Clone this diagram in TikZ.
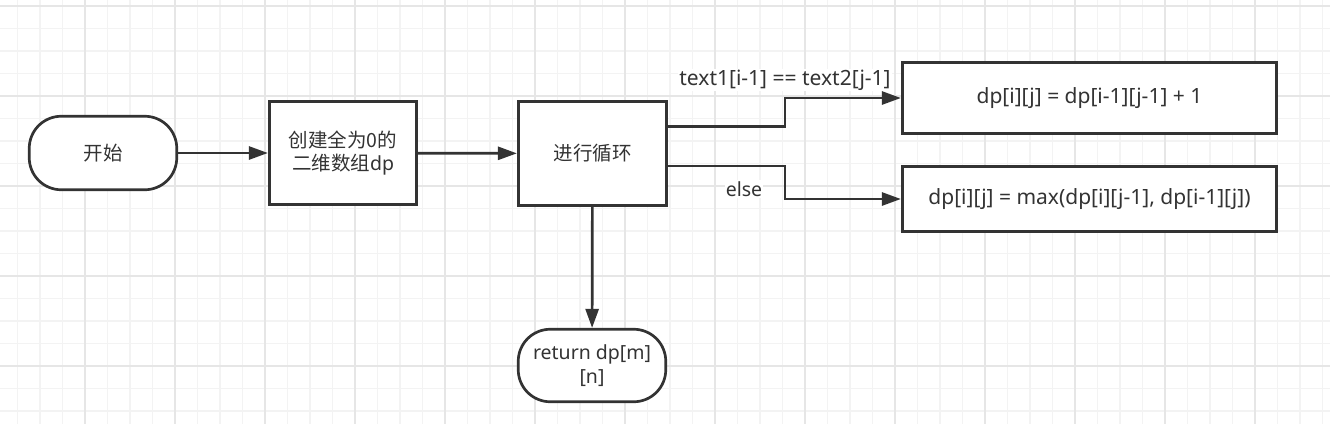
\documentclass[tikz,border=0pt]{standalone}
\usepackage{fontspec}
\setmainfont{Noto Sans}
\newfontfamily\cjk{Noto Sans CJK SC}
\usetikzlibrary{arrows.meta}
\definecolor{ink}{HTML}{333333}
\definecolor{gminor}{HTML}{F3F3F3}
\definecolor{gmajor}{HTML}{E6E6E6}
\tikzset{
  base/.style={draw=ink, line width=2.7pt, fill=white, text=ink, align=center,
    font=\fontsize{19.5}{23.5}\selectfont, inner sep=2pt},
  term/.style={base, rounded corners=32pt},
  procbox/.style={base},
  bigtext/.style={font=\fontsize{21}{25}\selectfont},
  conn/.style={draw=ink, line width=2.7pt, -{Triangle[length=19pt,width=13pt]}},
  lbl/.style={fill=white, text=ink, font=\fontsize{19.5}{23.5}\selectfont, inner sep=1pt}
}
\begin{document}
\begin{tikzpicture}[x=1pt,y=-1pt]
\useasboundingbox (0,0) rectangle (1330,424);
\fill[white] (0,0) rectangle (1330,424);
% grid
\foreach \k in {1,...,59} {\draw[gminor, line width=1.2pt] ({-5+22.5*\k},0) -- ({-5+22.5*\k},424);}
\foreach \k in {0,...,18} {\draw[gminor, line width=1.2pt] (0,{6+22.5*\k}) -- (1330,{6+22.5*\k});}
\foreach \k in {0,...,14} {\draw[gmajor, line width=1.2pt] ({85+90*\k},0) -- ({85+90*\k},424);}
\foreach \k in {0,...,4} {\draw[gmajor, line width=1.2pt] (0,{6+90*\k}) -- (1330,{6+90*\k});}
% nodes
\node[term, minimum width=147.5pt, minimum height=73.5pt] (start) at (103,153) {\cjk 开始};
\node[procbox, minimum width=147.5pt, minimum height=103.5pt] (init) at (343,153) {\cjk 创建全为0的\\\cjk 二维数组{\normalfont dp}};
\node[procbox, minimum width=148.5pt, minimum height=104.5pt] (loop) at (592.5,153.5) {\cjk 进行循环};
\node[procbox, bigtext, minimum width=374.5pt, minimum height=71.5pt] (eq) at (1089.5,98) {dp[i][j] = dp[i-1][j-1] + 1};
\node[procbox, bigtext, minimum width=374.5pt, minimum height=65.5pt] (ne) at (1089.5,199) {dp[i][j] = max(dp[i][j-1], dp[i-1][j])};
\node[term, minimum width=147.5pt, minimum height=72.5pt] (ret) at (592,365.5) {return dp[m]\\[0pt][n]};
% connectors
\coordinate (a1) at (785,126.5);
\coordinate (a2) at (785,98);
\coordinate (b1) at (785,166);
\coordinate (b2) at (785,199);
\draw[conn] (start) -- (init);
\draw[conn] (init) -- (loop);
\draw[conn] (loop.east |- a1) -- (a1) -- (a2) -- (eq.west |- a2);
\draw[conn] (loop.east |- b1) -- (b1) -- (b2) -- (ne.west |- b2);
\draw[conn] (loop) -- (ret);
\node[lbl, bigtext] (l1) at (785,80) {text1[i-1] == text2[j-1]};
\node[lbl] (l2) at (744,189) {else};
\end{tikzpicture}
\end{document}
